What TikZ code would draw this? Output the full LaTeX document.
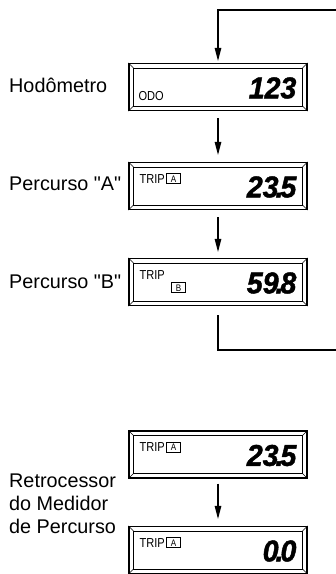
\documentclass[tikz,border=0pt]{standalone}
\usepackage{fontspec}
\setmainfont{Liberation Sans}
\newfontfamily\lblfont{Liberation Sans}
\newfontfamily\lcdfont{Liberation Sans}[FakeStretch=0.85]
\newfontfamily\digfont{Liberation Sans}[FakeStretch=0.95,FakeBold=1.5]
\usetikzlibrary{arrows.meta,calc}
\newcommand\bevel[1]{%
  \draw[line width=0.9pt] ($(#1.north west)+(5,-5)$) rectangle ($(#1.south east)+(-5,5)$);
  \draw[line width=0.6pt] (#1.north west) -- ++(5,-5) (#1.north east) -- ++(-5,-5)
    (#1.south west) -- ++(5,5) (#1.south east) -- ++(-5,5);}
\begin{document}
\begin{tikzpicture}[x=1pt,y=1pt,
  disp/.style={draw,line width=1.1pt,minimum width=178pt,minimum height=47pt,inner sep=0pt},
  lbl/.style={inner sep=0pt,anchor=base west,font=\lblfont\fontsize{19.8}{23}\selectfont},
  small/.style={inner sep=0pt,font=\lcdfont\fontsize{13}{13}\selectfont},
  tag/.style={draw,line width=0.9pt,inner sep=0.5pt,minimum width=14pt,minimum height=10pt,font=\lcdfont\fontsize{9.5}{9.5}\selectfont},
  digits/.style={inner sep=0pt,anchor=east,font=\digfont\bfseries\itshape\fontsize{30}{30}\selectfont},
  conn/.style={line width=1.1pt},
  arr/.style={conn,-{Triangle[length=13pt,width=6.5pt]}}
]
\useasboundingbox (0,0) rectangle (336,-574);

% displays
\node[disp] (d1) at (218,-87) {};
\node[disp] (d2) at (218,-186) {};
\node[disp] (d3) at (218,-282) {};
\node[disp] (d4) at (218,-454.5) {};
\node[disp] (d5) at (218,-550) {};
\bevel{d1}\bevel{d2}\bevel{d3}\bevel{d4}\bevel{d5}

% display contents
\node[small,anchor=base west] (o1) at ($(d1.south west)+(10,11)$) {ODO};
\node[digits] (n1) at ($(d1.east)+(-11,-1)$) {123};

\node[small,anchor=north west] (t2) at ($(d2.north west)+(11,-12)$) {TRIP};
\node[tag,anchor=north west] (a2) at ($(t2.north east)+(1,0.5)$) {A};
\node[digits] (n2) at ($(d2.east)+(-11,-1)$) {23\kern-3pt.\kern-3pt5};

\node[small,anchor=north west] (t3) at ($(d3.north west)+(11,-12)$) {TRIP};
\node[tag,anchor=north west] (b3) at ($(t3.south east)+(6,-3)$) {B};
\node[digits] (n3) at ($(d3.east)+(-11,-1)$) {59\kern-3pt.\kern-3pt8};

\node[small,anchor=north west] (t4) at ($(d4.north west)+(11,-12)$) {TRIP};
\node[tag,anchor=north west] (a4) at ($(t4.north east)+(1,0.5)$) {A};
\node[digits] (n4) at ($(d4.east)+(-11,-1)$) {23\kern-3pt.\kern-3pt5};

\node[small,anchor=north west] (t5) at ($(d5.north west)+(11,-12)$) {TRIP};
\node[tag,anchor=north west] (a5) at ($(t5.north east)+(1,0.5)$) {A};
\node[digits] (n5) at ($(d5.east)+(-11,-1)$) {0\kern-3pt.\kern-3pt0};

% labels
\node[lbl] (l1) at (9,-92) {Hodômetro};
\node[lbl] (l2) at (9,-190) {Percurso "A"};
\node[lbl] (l3) at (9,-288) {Percurso "B"};
\node[lbl] (r1) at (9,-487) {Retrocessor};
\node[lbl] (r2) at (9,-510) {do Medidor};
\node[lbl] (r3) at (9,-533) {de Percurso};

% connectors
\coordinate (tr) at (336,-10);
\coordinate (br) at (336,-350);
\draw[arr] (tr) -| ([yshift=2pt]d1.north);
\draw[arr] ([yshift=-7pt]d1.south) -- ([yshift=7pt]d2.north);
\draw[arr] ([yshift=-7pt]d2.south) -- ([yshift=6pt]d3.north);
\draw[conn] ([yshift=-9pt]d3.south) |- (br);
\draw[arr] ([yshift=-5pt]d4.south) -- ([yshift=7pt]d5.north);
\end{tikzpicture}
\end{document}
